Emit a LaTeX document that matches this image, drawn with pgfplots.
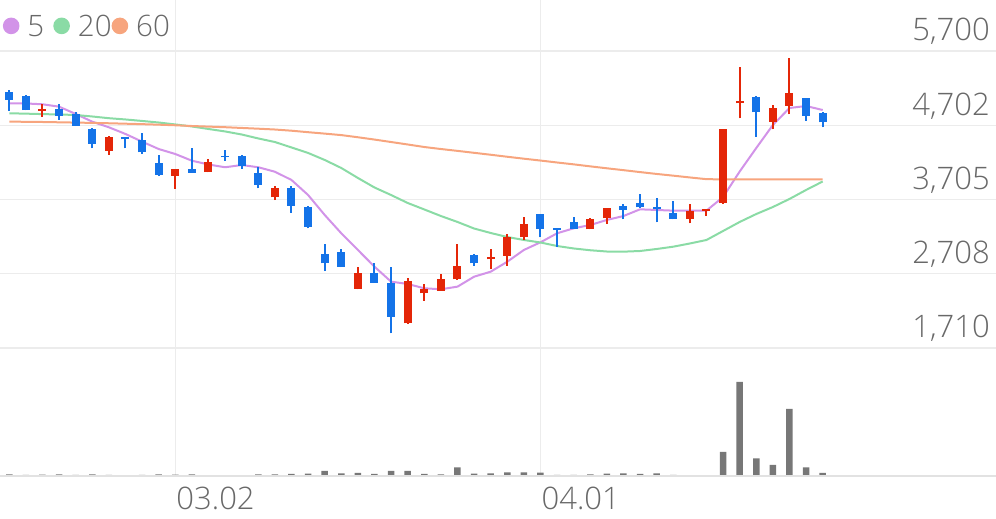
\documentclass[border=0pt]{standalone}
\usepackage{pgfplots}
\pgfplotsset{compat=1.18}
\usepackage{pgfplotstable}
\usepackage{fontspec}
\setmainfont{Open Sans Light}

\definecolor{upred}{RGB}{228,38,8}
\definecolor{downblue}{RGB}{20,115,232}
\definecolor{mafive}{RGB}{210,147,232}
\definecolor{matwenty}{RGB}{138,219,165}
\definecolor{masixty}{RGB}{247,165,126}
\definecolor{volgray}{RGB}{119,119,119}
\definecolor{gridgray}{RGB}{236,236,236}
\definecolor{basegray}{RGB}{226,226,226}
\definecolor{labelgray}{RGB}{104,104,104}
\newcommand\chartfont{\fontsize{31}{36}\selectfont}
\newcommand\legfont{\fontsize{29.5}{36}\selectfont}

% candles: i open high low close
\pgfplotstableread{
i o h l c
2 4898 4984 4817 4921
6 4357 4558 4303 4549
10 4025 4115 3846 4111
12 4074 4245 4068 4205
16 3735 3886 3698 3855
21 2503 2802 2496 2714
24 2042 2646 2039 2614
25 2445 2566 2345 2499
26 2480 2700 2476 2637
27 2633 3103 2630 2812
29 2902 3036 2767 2928
30 2946 3237 2812 3205
31 3197 3466 3161 3372
35 3305 3463 3302 3439
36 3452 3597 3376 3595
41 3443 3640 3385 3550
42 3550 3580 3483 3577
43 3654 4652 3651 4648
44 4997 5481 4796 5032
46 4750 4974 4648 4938
47 4965 5602 4850 5132
}\uptable

\pgfplotstableread{
i o h l c
0 5153 5176 4898 5042
1 5099 5109 4901 4907
3 4921 4984 4773 4831
4 4850 4884 4692 4696
5 4652 4659 4393 4451
7 4549 4551 4393 4514
8 4504 4594 4316 4339
9 4199 4303 4027 4034
11 4111 4393 4061 4065
13 4295 4370 4222 4272
14 4293 4296 4115 4155
15 4057 4146 3855 3900
17 3863 3886 3528 3618
18 3608 3611 3318 3340
19 2973 3103 2744 2848
20 3004 3036 2798 2802
22 2722 2856 2583 2587
23 2587 2794 1908 2131
28 2959 2966 2812 2848
32 3506 3510 3197 3309
33 3318 3322 3071 3295
34 3407 3474 3302 3305
37 3622 3640 3439 3564
38 3662 3775 3597 3600
39 3608 3721 3399 3573
40 3528 3689 3439 3443
45 5086 5089 4549 4876
48 5073 5075 4760 4827
49 4863 4884 4675 4742
}\downtable

% moving averages
\pgfplotstableread{
i ma5 ma20 ma60
0 4997 4863 4750
1 4995 4858 4749
2 4984 4852 4746
3 4952 4847 4742
4 4854 4840 4738
5 4750 4820 4734
6 4675 4797 4729
7 4585 4780 4723
8 4482 4760 4717
9 4383 4739 4710
10 4316 4713 4702
11 4226 4686 4692
12 4175 4652 4684
13 4138 4619 4676
14 4168 4578 4666
15 4138 4525 4656
16 4078 4477 4645
17 3967 4404 4629
18 3765 4330 4609
19 3497 4236 4590
20 3251 4128 4570
21 3027 3994 4541
22 2802 3866 4510
23 2601 3765 4477
24 2570 3658 4444
25 2512 3571 4410
26 2499 3483 4383
27 2534 3403 4358
28 2668 3315 4332
29 2735 3255 4306
30 2869 3201 4279
31 3027 3161 4253
32 3130 3127 4228
33 3251 3080 4202
34 3318 3047 4177
35 3362 3023 4150
36 3430 3006 4124
37 3483 3004 4099
38 3573 3013 4073
39 3564 3040 4048
40 3555 3071 4025
41 3555 3114 4001
42 3555 3161 3978
43 3739 3282 3975
44 4081 3403 3975
45 4397 3510 3975
46 4706 3604 3975
47 4934 3712 3975
48 4961 3833 3975
49 4907 3947 3975
}\matable

% volume (thousands)
\pgfplotstableread{
i v
0 24
1 17
2 20
3 24
4 17
5 24
6 17
7 14
8 17
9 24
10 20
11 24
12 14
13 14
14 14
15 24
16 24
17 27
18 30
19 57
20 34
21 37
22 27
23 57
24 57
25 27
26 24
27 94
28 30
29 34
30 44
31 44
32 40
33 17
34 17
35 24
36 30
37 34
38 27
39 34
40 17
41 14
42 14
43 247
44 947
45 184
46 117
47 677
48 94
49 37
}\voltable

\begin{document}
\begin{tikzpicture}
\begin{axis}[
  at={(0pt,0pt)}, anchor=south west,
  scale only axis, width=996pt, height=476.7pt,
  xmin=-0.56, xmax=59.44,
  ymin=-19, ymax=6385,
  axis line style={draw=none},
  major tick length=0pt,
  xtick={10,32}, xticklabels={03.02,04.01},
  ytick={1710,2708,3705,4702,5700},
  xmajorgrids, ymajorgrids,
  grid style={draw=gridgray, line width=1.5pt},
  yticklabel pos=right,
  ticklabel style={font=\chartfont, text=labelgray, inner sep=0pt},
  yticklabel style={anchor=base east, xshift=-6pt, yshift=10pt},
  xticklabel style={anchor=base west, xshift=1pt, yshift=-32.7pt},
  /pgf/number format/.cd, 1000 sep={,}, assume math mode=true,
  /pgfplots/.cd,
  legend style={at={(axis description cs:0,1)}, anchor=north west,
    xshift=2.7pt, yshift=-15pt, draw=none, fill=none, inner sep=0pt,
    legend columns=-1, font=\legfont, text=labelgray,
    nodes={inner sep=0pt, text depth=0pt},
    /tikz/every odd column/.append style={column sep=8pt},
    /tikz/column 2/.append style={column sep=9pt},
    /tikz/column 4/.append style={column sep=0pt}},
  legend image code/.code={\fill[#1] (7.3pt,0pt) circle (7.3pt);},
]
\addplot[mafive, line width=2pt, line join=round] table[x=i, y=ma5] {\matable};
\addplot[matwenty, line width=2pt, line join=round] table[x=i, y=ma20] {\matable};
\addplot[masixty, line width=2pt, line join=round] table[x=i, y=ma60] {\matable};
\legend{5,20,60}

% wicks
\addplot[draw=none, forget plot, error bars/.cd, y dir=plus, y explicit, error mark=none,
  error bar style={draw=upred, line width=2pt}]
  table[x=i, y=l, y error plus expr=\thisrow{h}-\thisrow{l}] {\uptable};
\addplot[draw=none, forget plot, error bars/.cd, y dir=plus, y explicit, error mark=none,
  error bar style={draw=downblue, line width=2pt}]
  table[x=i, y=l, y error plus expr=\thisrow{h}-\thisrow{l}] {\downtable};
% bodies
\addplot[draw=none, forget plot, error bars/.cd, y dir=plus, y explicit, error mark=none,
  error bar style={draw=upred, line width=8pt}]
  table[x=i, y=o, y error plus expr=\thisrow{c}-\thisrow{o}] {\uptable};
\addplot[draw=none, forget plot, error bars/.cd, y dir=plus, y explicit, error mark=none,
  error bar style={draw=downblue, line width=8pt}]
  table[x=i, y=c, y error plus expr=\thisrow{o}-\thisrow{c}] {\downtable};
\end{axis}

\begin{axis}[
  at={(0pt,0pt)}, anchor=south west,
  scale only axis, width=996pt, height=476.7pt,
  xmin=-0.56, xmax=59.44,
  ymin=0, ymax=4767,
  hide axis,
  ybar, bar width=6.5pt,
]
\addplot[fill=volgray, draw=none] table[x=i, y=v] {\voltable};
\draw[basegray, line width=3pt] (rel axis cs:0,0) -- (rel axis cs:1,0);
\end{axis}
\pgfresetboundingbox
\useasboundingbox (0pt,-42.3pt) rectangle (996pt,476.7pt);
\end{tikzpicture}
\end{document}
